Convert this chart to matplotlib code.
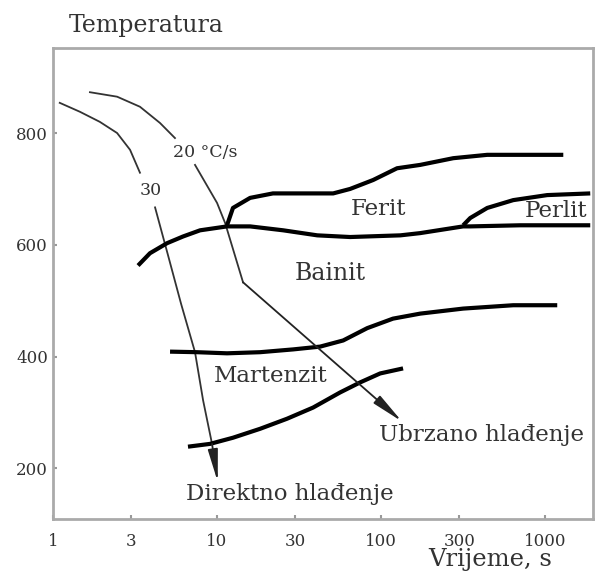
import numpy as np
import matplotlib.pyplot as plt

plt.rcParams["font.family"] = "DejaVu Serif"

# %% Data

# cooling curves, time in s, temperature in C
c30_t = [1.10, 1.46, 1.93, 2.46, 2.95, 3.39]
c30_T = [854, 838, 820, 800, 770, 729]
c30b_t = [4.19, 5.03, 6.03, 7.34, 8.22, 9.32]
c30b_T = [667, 581, 495, 408, 322, 244]
c30_tip = (10.1, 176)

c20_t = [1.68, 2.46, 3.39, 4.49, 5.54]
c20_T = [873, 865, 847, 818, 791]
c20b_t = [7.34, 10.0, 11.2, 14.4]
c20b_T = [743, 675, 639, 533]
c20_tip = (134, 284)

# phase boundaries
fs_t = [3.30, 3.90, 4.96, 6.21, 7.88, 11.5, 15.9, 25.3, 40.8, 64.7, 131, 173,
        316, 349, 704, 1880]
fs_T = [563, 585, 603, 615, 626, 633, 633, 626, 617, 614, 617, 621,
        633, 633, 635, 635]

fu_t = [11.5, 12.5, 15.9, 21.9, 51, 64.7, 89.4, 125, 173, 275, 443, 1288]
fu_T = [635, 666, 684, 692, 692, 700, 716, 737, 743, 755, 761, 761]

pe_t = [316, 349, 443, 638, 1028, 1880]
pe_T = [635, 648, 666, 680, 689, 692]

bs_t = [5.17, 7.55, 11.5, 18.3, 29.1, 42.5, 58.7, 82.2, 118, 173, 316, 638, 1183]
bs_T = [409, 408, 406, 408, 413, 418, 429, 451, 468, 477, 486, 492, 492]

ms_t = [6.65, 9.06, 12.5, 18.3, 26.7, 38.5, 56.2, 74.5, 98.6, 136]
ms_T = [239, 244, 255, 271, 289, 309, 336, 354, 370, 379]

xticks = [1, 3, 10, 30, 100, 300, 1000]
yticks = [200, 400, 600, 800]

# %% Plot

fig = plt.figure(figsize=(5.95, 5.72), dpi=100)
ax = fig.add_axes([0.089, 0.093, 0.908, 0.823])

thin = dict(color="#333333", lw=1.3)
thick = dict(color="black", lw=3.0, solid_capstyle="butt")
arr = dict(arrowstyle="-|>,head_length=1.3,head_width=0.2", mutation_scale=15,
           color="#222222", lw=1.3, shrinkA=0, shrinkB=0)

ax.plot(c30_t, c30_T, **thin)
ax.plot(c30b_t, c30b_T, **thin)
ax.annotate("", xy=c30_tip, xytext=(c30b_t[-1], c30b_T[-1]), arrowprops=arr)
ax.plot(c20_t, c20_T, **thin)
ax.plot(c20b_t, c20b_T, **thin)
ax.annotate("", xy=c20_tip, xytext=(c20b_t[-1], c20b_T[-1]), arrowprops=arr)

ax.plot(fs_t, fs_T, **thick)
ax.plot(fu_t, fu_T, **thick)
ax.plot(pe_t, pe_T, **thick)
ax.plot(bs_t, bs_T, **thick)
ax.plot(ms_t, ms_T, **thick)

ax.text(8.45, 766, "20 °C/s", fontsize=12.5, ha="center", va="center", color="#333333")
ax.text(3.96, 698, "30", fontsize=12.5, ha="center", va="center", color="#333333")
ax.text(95.9, 664, "Ferit", fontsize=16.5, ha="center", va="center", color="#333333")
ax.text(1167, 660, "Perlit", fontsize=16.5, ha="center", va="center", color="#333333")
ax.text(48.9, 549, "Bainit", fontsize=17, ha="center", va="center", color="#333333")
ax.text(21.3, 366, "Martenzit", fontsize=16.5, ha="center", va="center", color="#333333")
ax.text(407, 259, "Ubrzano hlađenje", fontsize=16.5, ha="center", va="center", color="#333333")
ax.text(27.9, 155, "Direktno hlađenje", fontsize=16.5, ha="center", va="center", color="#333333")

fig.text(0.245, 0.956, "Temperatura", fontsize=17, ha="center", va="center", color="#333333")
fig.text(0.824, 0.021, "Vrijeme, s", fontsize=17.5, ha="center", va="center", color="#333333")

ax.set_xscale("log")
ax.set_xlim(1, 1960)
ax.set_ylim(110, 952)
ax.set_xticks(xticks)
ax.set_xticklabels([str(v) for v in xticks])
ax.xaxis.set_minor_locator(plt.NullLocator())
ax.set_yticks(yticks)
ax.tick_params(direction="in", length=3, width=1.5, color="#999999",
               labelsize=12, labelcolor="#333333")
ax.tick_params(axis="x", pad=10)
for s in ax.spines.values():
    s.set_color("#aaaaaa")
    s.set_linewidth(2)

fig.savefig("out.png", dpi=100)
